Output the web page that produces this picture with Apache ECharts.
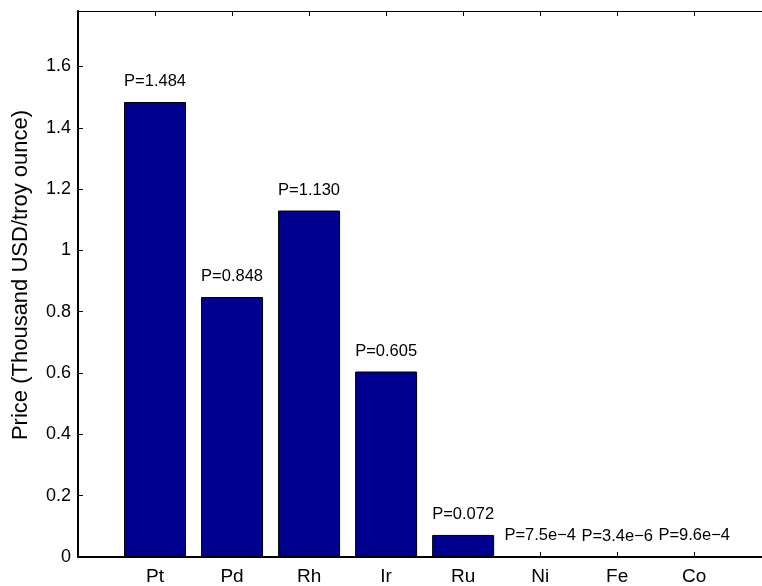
<!DOCTYPE html>
<html>
<head>
<meta charset="utf-8">
<script src="https://cdn.jsdelivr.net/npm/echarts@6/dist/echarts.min.js"></script>
<style>
  html, body { margin: 0; padding: 0; background: #fff; }
  #chart { width: 762px; height: 586px; }
</style>
</head>
<body>
<div id="chart"></div>
<script>
// metal prices, thousand USD per troy ounce
const metals = ['Pt', 'Pd', 'Rh', 'Ir', 'Ru', 'Ni', 'Fe', 'Co'];
const prices = [1.484, 0.848, 1.130, 0.605, 0.072, 7.5e-4, 3.4e-6, 9.6e-4];
const priceLabels = ['P=1.484', 'P=0.848', 'P=1.130', 'P=0.605', 'P=0.072', 'P=7.5e\u22124', 'P=3.4e\u22126', 'P=9.6e\u22124'];
const yTicks = [0, 0.2, 0.4, 0.6, 0.8, 1, 1.2, 1.4, 1.6];
const xTicks = [1, 2, 3, 4, 5, 6, 7, 8];

const font = '"Liberation Sans", Arial, Helvetica, sans-serif';
const chart = echarts.init(document.getElementById('chart'));

// the axes box runs past the right edge of the picture (x range 0..9),
// so only the visible part 0..8.88 is laid out
const xMax = 8.88;

chart.setOption({
  animation: false,
  backgroundColor: '#fff',
  grid: { left: 78, top: 11, right: 0, height: 547 },
  xAxis: [{
    type: 'value', min: 0, max: xMax,
    splitLine: { show: false },
    axisLine: { lineStyle: { color: '#000', width: 2 } },
    axisTick: { inside: true, length: 5, customValues: xTicks, lineStyle: { color: '#000' } },
    axisLabel: {
      customValues: xTicks, margin: 10, color: '#000', fontSize: 19, fontFamily: font,
      formatter: v => metals[v - 1] || ''
    }
  }, {
    type: 'value', position: 'top', min: 0, max: xMax,
    splitLine: { show: false },
    axisLine: { lineStyle: { color: '#000', width: 1 } },
    axisTick: { inside: true, length: 5, customValues: xTicks, lineStyle: { color: '#000' } },
    axisLabel: { show: false }
  }],
  yAxis: {
    type: 'value', min: 0, max: 1.2 * Math.max(...prices),
    name: 'Price (Thousand USD/troy ounce)',
    nameLocation: 'middle', nameGap: 46,
    nameTextStyle: { color: '#000', fontSize: 22, fontFamily: font, padding: [0, 0, 0, 18] },
    splitLine: { show: false },
    axisLine: { lineStyle: { color: '#000', width: 2 } },
    axisTick: { inside: true, length: 5, customValues: yTicks, lineStyle: { color: '#000' } },
    axisLabel: { customValues: yTicks, margin: 7, color: '#000', fontSize: 18, fontFamily: font }
  },
  series: [{
    type: 'bar',
    data: prices.map((v, i) => [i + 1, v]),
    barWidth: 62,
    itemStyle: { color: '#00008F', borderColor: '#000', borderWidth: 1 },
    label: {
      show: true, position: 'top', distance: 12,
      color: '#000', fontSize: 16.5, fontFamily: font,
      formatter: p => priceLabels[p.dataIndex]
    }
  }]
});
</script>
</body>
</html>
